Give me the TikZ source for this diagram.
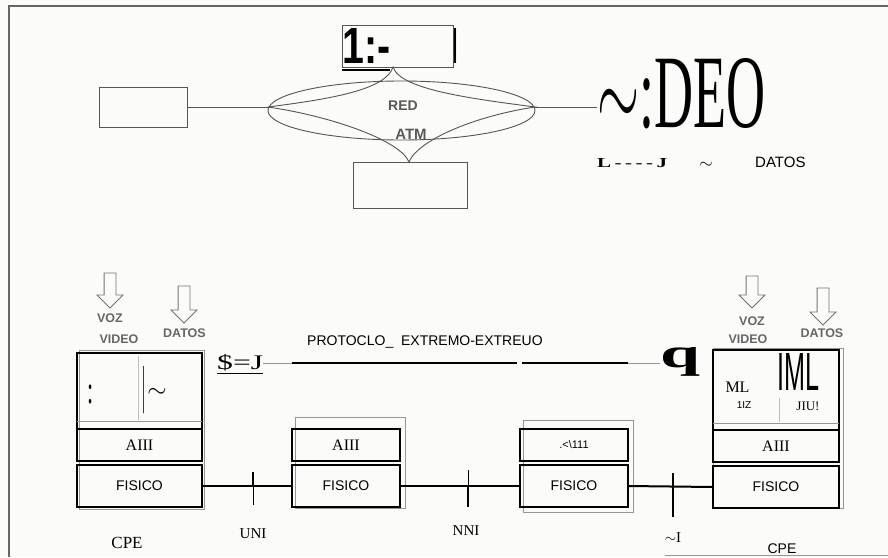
\documentclass[tikz,border=0pt]{standalone}
\usepackage{fontspec}
\setmainfont{Liberation Serif}
\newfontfamily\arial{Liberation Sans}
\usetikzlibrary{positioning,calc,shapes.geometric,shapes.arrows}
\definecolor{scangray}{RGB}{85,85,85}
\definecolor{shadegray}{RGB}{150,150,150}
\definecolor{paper}{RGB}{251,251,249}
\newcommand{\fs}[1]{\fontsize{#1}{#1}\selectfont}

\begin{document}
\begin{tikzpicture}[x=1pt,y=-1pt,
  box/.style={draw=scangray,line width=0.9pt,inner sep=0pt,outer sep=0pt},
  lay/.style={draw=black,line width=2.2pt,inner sep=0pt,outer sep=0pt},
  shade/.style={draw=shadegray,line width=0.8pt},
  link/.style={draw=black,line width=2pt},
  inlbl/.style={font=\arial\bfseries\fs{12.5},text=black!60,inner sep=0pt,anchor=base},
  hollow/.style={single arrow,draw=black!55,line width=0.8pt,shape border rotate=270,
    single arrow head extend=7pt,single arrow head indent=0pt,inner sep=5.5pt}]
  \useasboundingbox (0,0) rectangle (888,557);
  \path[fill=paper] (0,0) rectangle (888,557);
  % marco de la pagina
  \coordinate (fA) at (9,557);
  \coordinate (fB) at (9,6);
  \coordinate (fC) at (888,6);
  \draw[black!60,line width=1.3pt] (fA) -- (fB) -- (fC);
  \draw[shade] (665,555) -- (888,555);

  % red ATM (arriba)
  \node[box,minimum width=88pt,minimum height=40pt] (termA) at (143,107) {};
  \node[box,minimum width=111pt,minimum height=42pt] (termB) at (397.5,46) {};
  \node[box,minimum width=114pt,minimum height=46pt] (termC) at (410,185) {};
  \node[draw=scangray,line width=0.9pt,ellipse,inner sep=0pt,
        minimum width=267pt,minimum height=59pt] (red) at (401.5,110.5) {};
  \coordinate (pL) at (268,107);
  \coordinate (pT) at ($(termB.south)+(-4.5,0)$);
  \coordinate (pR) at (535,107);
  \coordinate (pB) at ($(termC.north)+(-1,0)$);
  \draw[scangray,line width=0.9pt] (pL) .. controls (330,99) and (386,90) .. (pT)
     .. controls (400,90) and (475,99) .. (pR)
     .. controls (475,116) and (418,140) .. (pB)
     .. controls (400,140) and (330,116) .. (pL);
  \draw[scangray,line width=0.9pt] (termA.east) -- (pL);
  \node[font=\arial\bfseries\fs{14},text=black!65] (redL) at (403,106) {RED};
  \node[font=\arial\bfseries\fs{15},text=black!65] (atmL) at (411,134) {ATM};
  \node[anchor=base west,inner sep=0pt] (swB) at (342,63) {\resizebox{48pt}{35pt}{\arial\bfseries\underline{1:-}}};
  \node[anchor=base,inner sep=0pt] (barB) at (455,63) {\resizebox{4pt}{35pt}{\arial\bfseries I}};
  \node[anchor=base west,inner sep=0pt] (deo) at (597,127) {\resizebox{168pt}{69pt}{$\sim$:DEO}};
  \draw[scangray,line width=0.9pt] (pR) -- (pR -| deo.west);
  \node[anchor=base west,inner sep=0pt] (lj) at (597,167) {\resizebox{70pt}{9pt}{\bfseries L\,-{}\,-{}\,-{}\,-{}\,J}};
  \node[anchor=base,inner sep=0pt,font=\fs{18}] (tl) at (706,168) {$\sim$};
  \node[anchor=base west,inner sep=0pt,font=\arial\fs{15}] (datT) at (755,167) {DATOS};

  % flechas de entrada
  \node[hollow,minimum height=35pt] (aVozA) at (110,287.5) {};
  \node[hollow,minimum height=37pt] (aDatA) at (184,301.5) {};
  \node[hollow,minimum height=32pt] (aVozD) at (752,289) {};
  \node[hollow,minimum height=37pt] (aDatD) at (823,303.5) {};
  \node[inlbl] (vozA) at (110,322) {VOZ};
  \node[inlbl] (vidA) at (119,343) {VIDEO};
  \node[inlbl] (datA) at (184.5,337) {DATOS};
  \node[inlbl] (vozD) at (752,325) {VOZ};
  \node[inlbl] (vidD) at (748,343) {VIDEO};
  \node[inlbl] (datD) at (822,337) {DATOS};

  % CPE izquierdo
  \draw[shade] (79,350) rectangle (204,509);
  \node[lay,minimum width=125pt,minimum height=76pt] (cpeA) at (139.5,391) {};
  \node[lay,minimum width=125pt,minimum height=32pt,font=\fs{16},below=0pt of cpeA] (aalA) {AIII};
  \node[lay,minimum width=125pt,minimum height=42pt,font=\arial\fs{14},below=4pt of aalA] (fisA) {FISICO};
  \draw[shade] (77,421) -- (202,421);
  \draw[black!25,line width=0.6pt] (138,356) -- (138,420);
  \node[inner sep=0pt] (colA) at (91,394) {\scalebox{1}[1.8]{\fs{22}:}};
  \node[inner sep=0pt] (barA) at (144,390) {\resizebox{3pt}{36pt}{|}};
  \node[inner sep=0pt] (tilA) at (157,393) {\fs{24}$\sim$};

  % conmutador intermedio
  \draw[shade] (295,417) rectangle (405,508);
  \node[lay,minimum width=108pt,minimum height=32pt,font=\fs{16}] (aalB) at (346,445) {AIII};
  \node[lay,minimum width=108pt,minimum height=42pt,font=\arial\fs{14},below=4pt of aalB] (fisB) {FISICO};

  % conmutador derecho
  \draw[shade] (523,420) rectangle (633,512);
  \node[lay,minimum width=108pt,minimum height=32pt,font=\arial\fs{11}] (aalC) at (574,445) {.<\textbackslash 111};
  \node[lay,minimum width=108pt,minimum height=42pt,font=\arial\fs{14},below=4pt of aalC] (fisC) {FISICO};

  % CPE derecho
  \draw[shade] (713,348) rectangle (843,508);
  \node[lay,minimum width=126pt,minimum height=80pt] (cpeD) at (776,390) {};
  \node[lay,minimum width=126pt,minimum height=32pt,font=\fs{16},below=0pt of cpeD] (aalD) {AIII};
  \node[lay,minimum width=126pt,minimum height=42pt,font=\arial\fs{14},below=4pt of aalD] (fisD) {FISICO};
  \draw[shade] (713,423) -- (839,423);
  \draw[black!25,line width=0.6pt] (779,398) -- (779,422);
  \node[anchor=base,inner sep=0pt,font=\fs{16}] (mlD) at (737.5,392) {ML};
  \node[anchor=base,inner sep=0pt,font=\arial\fs{10}] (izD) at (744,408) {1IZ};
  \node[anchor=base west,inner sep=0pt] (imlD) at (777,390) {\resizebox{42pt}{37pt}{\arial IML}};
  \node[anchor=base,inner sep=0pt,font=\fs{13}] (jiuD) at (808,410) {JIU!};

  % enlaces fisicos
  \draw[link] (fisA.east) -- (fisB.west);
  \draw[link] (fisB.east) -- (fisC.west);
  \draw[link] (fisC.east) -- (fisD.west);
  \coordinate (tUni) at (253,486);
  \coordinate (tNni) at (468,486);
  \coordinate (tI) at (673,486);
  \draw[line width=2pt] ($(tUni)+(0,-14)$) -- (tUni);
  \draw[line width=0.8pt] (tUni) -- ($(tUni)+(0,19)$);
  \draw[line width=0.8pt] ($(tNni)+(0,-16)$) -- (tNni);
  \draw[line width=2pt] (tNni) -- ($(tNni)+(0,21)$);
  \draw[line width=2pt] ($(tI)+(0,-13)$) -- ($(tI)+(0,31)$);
  \node[anchor=base,inner sep=0pt,font=\fs{15}] (uniL) at (253,538) {UNI};
  \node[anchor=base,inner sep=0pt,font=\fs{15}] (nniL) at (466,535) {NNI};
  \node[anchor=base,inner sep=0pt,font=\fs{15}] (iL) at (673,542) {$\sim$I};
  \node[anchor=base,inner sep=0pt,font=\fs{17}] (cpeAL) at (127,548) {CPE};
  \node[anchor=base,inner sep=0pt,font=\arial\fs{14}] (cpeDL) at (782,553) {CPE};

  % protocolo extremo a extremo
  \node[anchor=base west,inner sep=0pt] (sj) at (217,369) {\resizebox{46pt}{15pt}{\underline{\$=J}}};
  \node[anchor=base west,inner sep=0pt] (q) at (660,367) {\resizebox{40pt}{20pt}{\bfseries q}};
  \coordinate (pa) at (292,363);
  \coordinate (pb) at (517,363);
  \coordinate (pc) at (522,363);
  \coordinate (pd) at (628,363);
  \draw[shadegray,line width=0.8pt] (sj.east |- pa) -- (pa);
  \draw[shadegray,line width=0.8pt] (pd) -- (pd -| q.west);
  \draw[link] (pa) -- (pb);
  \draw[link] (pc) -- (pd);
  \node[anchor=base west,inner sep=0pt,font=\arial\fs{14}] (prot) at (307,345) {PROTOCLO\_\ \ EXTREMO-EXTREUO};
\end{tikzpicture}
\end{document}
